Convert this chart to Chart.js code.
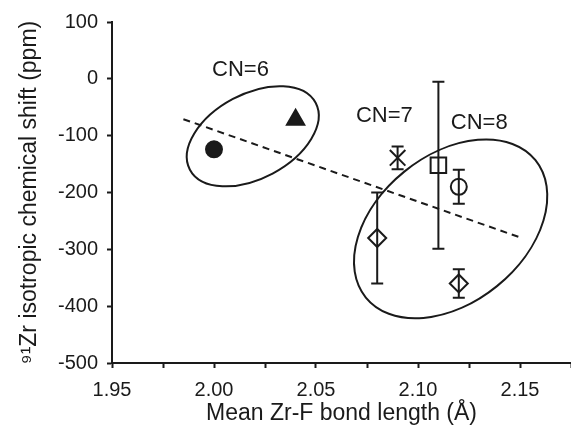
<!DOCTYPE html>
<html>
<head>
<meta charset="utf-8">
<script src="https://cdn.jsdelivr.net/npm/chart.js@4"></script>
<style>
  html, body { margin: 0; padding: 0; background: #fff; overflow: hidden; }
  #wrap { width: 571px; height: 433px; position: relative; }
</style>
</head>
<body>
<div id="wrap"><canvas id="myChart"></canvas></div>
<script>
// data
const bondLength = [2.00, 2.04, 2.09, 2.11, 2.12, 2.08, 2.12];
const isoShift = [-124, -72, -139, -152, -190, -280, -360];
const shiftError = [0, 0, 20, 147, 30, 80, 25];
const trendX = [1.985, 2.15];
const trendY = [-71, -279];
const groupLabels = ["CN=6", "CN=7", "CN=8"];
const groupLabelX = [2.013, 2.0835, 2.130];
const groupLabelY = [15, -65, -78];
const xTicks = [1.95, 2.00, 2.05, 2.10, 2.15];
const xMinorTicks = [1.95, 1.975, 2.00, 2.025, 2.05, 2.075, 2.10, 2.125, 2.15, 2.175];

const ink = "#1a1a1a";
const font = "'Liberation Sans', Arial, sans-serif";

// ellipse outlines around the groups (centre in data units, radii in Å along x scale)
const ellipses = [
    { cx: 2.019, cy: -101, a: 0.0349, b: 0.0207, angle: -28 },
    { cx: 2.116, cy: -264, a: 0.0535, b: 0.0361, angle: -39 },
];

const pt = (i) => [{ x: bondLength[i], y: isoShift[i] }];

const markerSet = (data, style, radius, filled) => ({
    type: "scatter",
    data,
    pointStyle: style,
    pointRadius: radius,
    pointHoverRadius: radius,
    pointBackgroundColor: filled ? ink : "rgba(0,0,0,0)",
    pointBorderColor: ink,
    pointBorderWidth: 2,
});

const overlay = {
    id: "overlay",
    beforeDatasetsDraw(chart) {
        const { ctx, scales: { x, y } } = chart;
        ctx.save();
        ctx.strokeStyle = ink;
        ctx.lineWidth = 2;
        // ellipses
        ellipses.forEach((e) => {
            const px = x.getPixelForValue(e.cx);
            const py = y.getPixelForValue(e.cy);
            const rx = x.getPixelForValue(e.cx + e.a) - px;
            const ry = x.getPixelForValue(e.cx + e.b) - px;
            ctx.beginPath();
            ctx.ellipse(px, py, rx, ry, e.angle * Math.PI / 180, 0, Math.PI * 2);
            ctx.stroke();
        });
        // error bars
        bondLength.forEach((bx, i) => {
            if (!shiftError[i]) return;
            const px = x.getPixelForValue(bx);
            const top = y.getPixelForValue(isoShift[i] + shiftError[i]);
            const bot = y.getPixelForValue(isoShift[i] - shiftError[i]);
            ctx.beginPath();
            ctx.moveTo(px, top);
            ctx.lineTo(px, bot);
            ctx.moveTo(px - 6, top);
            ctx.lineTo(px + 6, top);
            ctx.moveTo(px - 6, bot);
            ctx.lineTo(px + 6, bot);
            ctx.stroke();
        });
        // group labels
        ctx.fillStyle = ink;
        ctx.font = "22px " + font;
        ctx.textAlign = "center";
        ctx.textBaseline = "middle";
        groupLabels.forEach((t, i) => {
            ctx.fillText(t, x.getPixelForValue(groupLabelX[i]), y.getPixelForValue(groupLabelY[i]));
        });
        ctx.restore();
    },
};

new Chart(document.getElementById("myChart"), {
    type: "scatter",
    data: {
        datasets: [
            {
                type: "line",
                data: trendX.map((v, i) => ({ x: v, y: trendY[i] })),
                borderColor: ink,
                borderWidth: 2,
                borderDash: [7, 5],
                pointRadius: 0,
                fill: false,
            },
            markerSet(pt(0), "circle", 8, true),
            markerSet(pt(1), "triangle", 10, true),
            markerSet(pt(2), "crossRot", 11, false),
            markerSet(pt(3), "rect", 11, false),
            markerSet(pt(4), "circle", 8, false),
            markerSet([...pt(5), ...pt(6)], "rectRot", 9, false),
        ],
    },
    options: {
        responsive: true,
        maintainAspectRatio: false,
        animation: false,
        layout: { autoPadding: false, padding: { top: 22, right: 0, left: 0, bottom: 0 } },
        plugins: { legend: { display: false }, tooltip: { enabled: false } },
        scales: {
            x: {
                type: "linear",
                min: 1.95,
                max: 2.175,
                afterFit: (s) => { s.height = 70; s.paddingRight = 0; },
                afterBuildTicks: (s) => {
                    s.ticks = xMinorTicks.map((v) => ({ value: v }));
                },
                grid: { drawOnChartArea: false, drawTicks: true, tickLength: 5, tickWidth: 2, tickColor: ink },
                border: { color: ink, width: 2 },
                ticks: {
                    color: ink,
                    font: { family: font, size: 20 },
                    padding: 10,
                    maxRotation: 0,
                    autoSkip: false,
                    callback: (v) => {
                        const hit = xTicks.find((t) => Math.abs(t - v) < 1e-6);
                        return hit !== undefined ? hit.toFixed(2) : "";
                    },
                },
                title: {
                    display: true,
                    text: "Mean Zr-F bond length (Å)",
                    color: ink,
                    font: { family: font, size: 23 },
                    padding: { top: 0, bottom: 6 },
                },
            },
            y: {
                min: -500,
                max: 100,
                afterFit: (s) => { s.width = 112; },
                grid: { drawOnChartArea: false, drawTicks: true, tickLength: 5, tickWidth: 2, tickColor: ink },
                border: { color: ink, width: 2 },
                ticks: {
                    stepSize: 100,
                    color: ink,
                    font: { family: font, size: 20 },
                    padding: 9,
                    callback: (v) => String(v),
                },
                title: {
                    display: true,
                    text: "⁹¹Zr isotropic chemical shift (ppm)",
                    color: ink,
                    font: { family: font, size: 23 },
                    padding: { top: 16, bottom: 0 },
                },
            },
        },
    },
    plugins: [overlay],
});
</script>
</body>
</html>
